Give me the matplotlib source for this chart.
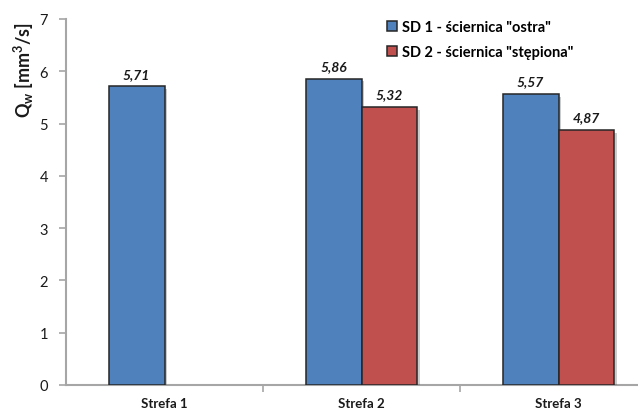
import numpy as np
import matplotlib
matplotlib.use("Agg")
from matplotlib import pyplot as plt
from matplotlib import patheffects as pe

categories = ["Strefa 1", "Strefa 2", "Strefa 3"]
series_names = ['SD 1 - ściernica "ostra"', 'SD 2 - ściernica "stępiona"']
sd1 = [5.71, 5.86, 5.57]
sd2 = [np.nan, 5.32, 4.87]
yticks = [0, 1, 2, 3, 4, 5, 6, 7]

plt.rcParams["font.family"] = ["Lato", "DejaVu Sans"]
plt.rcParams["mathtext.fontset"] = "custom"
plt.rcParams["mathtext.rm"] = "Lato:bold"
plt.rcParams["mathtext.it"] = "Lato:bold"
plt.rcParams["mathtext.default"] = "rm"

colors = ["#4F81BD", "#C0504D"]
grey = "#A6A6A6"

fig = plt.figure(figsize=(6.38, 4.10), dpi=100)
ax = fig.add_axes([66 / 638, 1 - 386 / 410, 591 / 638, 366 / 410])

x = np.arange(len(categories))
w = 0.284
shadow = [pe.SimplePatchShadow(offset=(2, -2), alpha=0.3, shadow_rgbFace="#555555"), pe.Normal()]

for i, vals in enumerate([sd1, sd2]):
    xs = x + (i - 0.5) * w
    bars = ax.bar(xs, vals, width=w, align="center", color=colors[i],
                  edgecolor="#262626", linewidth=1.1, label=series_names[i], zorder=3)
    for b in bars:
        b.set_path_effects(shadow)
    for xi, v in zip(xs, vals):
        if np.isnan(v):
            continue
        ax.text(xi, v + 0.13, f"{v:.2f}".replace(".", ","), ha="center", va="bottom",
                fontsize=10, fontweight="bold", fontstyle="italic", color="#1a1a1a")

ax.set_xlim(-0.5, len(categories) - 0.5)
ax.set_ylim(0, 7)
ax.set_yticks(yticks)
ax.set_yticklabels([str(t) for t in yticks], fontsize=10.5, color="#1a1a1a")
ax.set_xticks(x)
ax.set_xticklabels(categories, fontsize=9.5, fontweight="bold", color="#1a1a1a")
ax.set_xticks(x[:-1] + 0.5, minor=True)
ax.tick_params(axis="x", which="major", length=0, pad=9)
ax.tick_params(axis="x", which="minor", length=5, color=grey, width=1.2, direction="out")
ax.tick_params(axis="y", length=5, color=grey, width=1.2, pad=8)

for s in ["top", "right"]:
    ax.spines[s].set_visible(False)
for s in ["left", "bottom"]:
    ax.spines[s].set_color(grey)
    ax.spines[s].set_linewidth(1.5)

fig.text(24 / 638, 1 - 70 / 410, r"Q$_{w}$ [mm$^{3}$/s]", rotation=90, ha="center", va="center",
         fontsize=13, fontweight="bold", color="#1a1a1a")

leg = fig.legend(loc="upper left", bbox_to_anchor=(381 / 638, 1 - 15 / 410), frameon=False,
                 prop={"weight": "bold", "size": 10.5}, handlelength=0.7, handleheight=0.7,
                 handletextpad=0.35, labelspacing=0.75, borderaxespad=0)
for h in leg.legend_handles:
    h.set_path_effects([])
    h.set_edgecolor("#262626")

fig.savefig("out.png", dpi=100)
